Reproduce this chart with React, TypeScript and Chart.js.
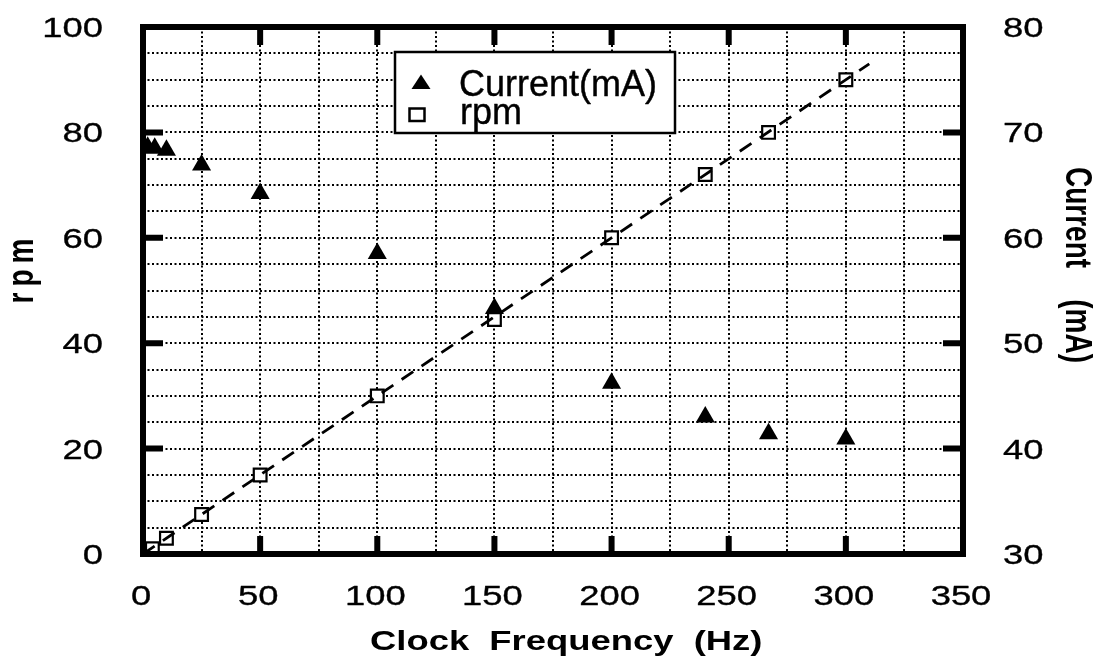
import React, { useEffect, useRef } from 'react';
import { Chart, registerables } from 'chart.js';

Chart.register(...registerables);

// ---- data ----
const rpmFreq = [4, 10, 25, 50, 100, 150, 200, 240, 267, 300];
const rpmValues = [1, 3, 7.5, 15, 30, 44.5, 60, 72, 80, 90];
const currentFreq = [2, 5, 10, 25, 50, 100, 150, 200, 240, 267, 300];
const currentValues = [68.6, 68.5, 68.3, 66.9, 64.2, 58.5, 53.3, 46.2, 43.0, 41.4, 40.9];
const fitFreq = [0, 310];
const fitRpm = [0, 93];

const xMajorTicks = [0, 50, 100, 150, 200, 250, 300, 350];
const rpmMajorTicks = [0, 20, 40, 60, 80, 100];
const currentMajorTicks = [30, 40, 50, 60, 70, 80];

const xTitle = 'Clock  Frequency  (Hz)';
const yLeftTitle = 'rpm';
const yRightTitle = 'Current    (mA)';
const legendLabels = ['Current(mA)', 'rpm'];

const FONT = '"Liberation Sans", Arial, Helvetica, sans-serif';
const STRETCH = 1.3;

const decorPlugin = {
  id: 'decor',
  afterDraw(chart: any) {
    const { ctx, chartArea: a, scales } = chart;
    const xs = scales.x;
    const ys = scales.y;
    const yr = scales.yR;
    ctx.save();
    ctx.setLineDash([]);
    ctx.strokeStyle = '#000';
    ctx.fillStyle = '#000';

    // thick frame
    ctx.lineWidth = 6;
    ctx.lineJoin = 'miter';
    ctx.strokeRect(a.left, a.top, a.right - a.left, a.bottom - a.top);

    // inward major ticks
    ctx.lineCap = 'butt';
    ctx.beginPath();
    for (const v of xMajorTicks) {
      if (v === xs.min || v === xs.max) continue;
      const px = xs.getPixelForValue(v);
      ctx.moveTo(px, a.bottom);
      ctx.lineTo(px, a.bottom - 18);
      ctx.moveTo(px, a.top);
      ctx.lineTo(px, a.top + 18);
    }
    for (const v of rpmMajorTicks) {
      if (v === ys.min || v === ys.max) continue;
      const py = ys.getPixelForValue(v);
      ctx.moveTo(a.left, py);
      ctx.lineTo(a.left + 20, py);
    }
    for (const v of currentMajorTicks) {
      if (v === yr.min || v === yr.max) continue;
      const py = yr.getPixelForValue(v);
      ctx.moveTo(a.right, py);
      ctx.lineTo(a.right - 20, py);
    }
    ctx.stroke();

    const stretchedText = (
      text: string, x: number, y: number, font: string, align: CanvasTextAlign,
      sx = STRETCH, heavy = 0,
    ) => {
      ctx.save();
      ctx.translate(x, y);
      ctx.scale(sx, 1);
      ctx.font = font;
      ctx.textAlign = align;
      ctx.textBaseline = 'alphabetic';
      ctx.fillStyle = '#000';
      ctx.fillText(text, 0, 0);
      if (heavy > 0) {
        ctx.lineWidth = heavy;
        ctx.strokeStyle = '#000';
        ctx.lineJoin = 'round';
        ctx.strokeText(text, 0, 0);
      }
      ctx.restore();
    };

    // tick labels (positions from the library scales)
    const tickFont = `28px ${FONT}`;
    for (const v of xMajorTicks) {
      stretchedText(String(v), xs.getPixelForValue(v) - 2, 605, tickFont, 'center', STRETCH, 0.35);
    }
    for (const v of rpmMajorTicks) {
      stretchedText(String(v), 103, ys.getPixelForValue(v) + 10, tickFont, 'right', STRETCH, 0.35);
    }
    for (const v of currentMajorTicks) {
      stretchedText(String(v), 1003, yr.getPixelForValue(v) + 10, tickFont, 'left', STRETCH, 0.35);
    }

    // legend box
    const bx = 395, by = 52, bw = 280, bh = 81;
    ctx.fillStyle = '#fff';
    ctx.fillRect(bx, by, bw, bh);
    ctx.lineWidth = 2.5;
    ctx.strokeRect(bx, by, bw, bh);
    ctx.fillStyle = '#000';
    ctx.beginPath();
    ctx.moveTo(421, 74.5);
    ctx.lineTo(430.5, 89);
    ctx.lineTo(411.5, 89);
    ctx.closePath();
    ctx.fill();
    ctx.fillStyle = '#fff';
    ctx.fillRect(409.5, 108.5, 15, 12.5);
    ctx.lineWidth = 2.5;
    ctx.strokeRect(409.5, 108.5, 15, 12.5);
    ctx.fillStyle = '#000';
    stretchedText(legendLabels[0], 459, 96, `36px ${FONT}`, 'left', 1, 0.4);
    stretchedText(legendLabels[1], 460, 124, `36px ${FONT}`, 'left', 1, 0.4);

    // x title
    stretchedText(xTitle, 370, 650, `bold 28px ${FONT}`, 'left');

    // left title (rotated)
    ctx.save();
    ctx.translate(33, 271);
    ctx.scale(STRETCH, 1);
    ctx.rotate(-Math.PI / 2);
    ctx.font = `bold 28px ${FONT}`;
    ctx.letterSpacing = '6px';
    ctx.textAlign = 'center';
    ctx.textBaseline = 'alphabetic';
    ctx.fillText(yLeftTitle, 3, 0);
    ctx.restore();

    // right title (rotated)
    ctx.save();
    ctx.translate(1066, 167);
    ctx.scale(STRETCH, 1);
    ctx.rotate(Math.PI / 2);
    ctx.font = `bold 28px ${FONT}`;
    ctx.textAlign = 'left';
    ctx.textBaseline = 'alphabetic';
    ctx.fillText(yRightTitle, 0, 0);
    ctx.restore();

    ctx.restore();
  },
};

const zeroPad = (s: any) => {
  s.paddingTop = 0;
  s.paddingBottom = 0;
  s.paddingLeft = 0;
  s.paddingRight = 0;
};

export default function App() {
  const ref = useRef<HTMLCanvasElement | null>(null);

  useEffect(() => {
    if (!ref.current) return;
    const chart = new Chart(ref.current, {
      type: 'scatter',
      data: {
        datasets: [
          {
            label: 'fit',
            data: fitFreq.map((f, i) => ({ x: f, y: fitRpm[i] })),
            showLine: true,
            borderColor: '#000',
            borderWidth: 2.8,
            borderDash: [14, 10],
            pointRadius: 0,
            yAxisID: 'y',
          },
          {
            label: legendLabels[1],
            data: rpmFreq.map((f, i) => ({ x: f, y: rpmValues[i] })),
            pointStyle: 'rect',
            pointRadius: 9,
            backgroundColor: '#fff',
            borderColor: '#000',
            borderWidth: 2.2,
            yAxisID: 'y',
          },
          {
            label: legendLabels[0],
            data: currentFreq.map((f, i) => ({ x: f, y: currentValues[i] })),
            pointStyle: 'triangle',
            pointRadius: 11,
            backgroundColor: '#000',
            borderColor: '#000',
            borderWidth: 0,
            yAxisID: 'yR',
          },
        ],
      },
      options: {
        responsive: false,
        animation: false,
        devicePixelRatio: 1,
        layout: { padding: { top: 27, left: 0, right: 0, bottom: 0 } },
        plugins: { legend: { display: false }, tooltip: { enabled: false } },
        scales: {
          x: {
            type: 'linear',
            position: 'bottom',
            min: 0,
            max: 350,
            afterFit: (s: any) => { s.height = 102; zeroPad(s); },
            ticks: { stepSize: 25, autoSkip: false, display: false },
            grid: { color: '#000', lineWidth: 2, drawTicks: false },
            border: { display: false, dash: [2, 2.5] },
          },
          y: {
            type: 'linear',
            position: 'left',
            min: 0,
            max: 100,
            afterFit: (s: any) => { s.width = 143; zeroPad(s); },
            ticks: { stepSize: 5, autoSkip: false, display: false },
            grid: { color: '#000', lineWidth: 2, drawTicks: false },
            border: { display: false, dash: [2, 2.5] },
          },
          yR: {
            type: 'linear',
            position: 'right',
            min: 30,
            max: 80,
            afterFit: (s: any) => { s.width = 134; zeroPad(s); },
            ticks: { stepSize: 10, autoSkip: false, display: false },
            grid: { drawOnChartArea: false, drawTicks: false },
            border: { display: false },
          },
        },
      },
      plugins: [decorPlugin],
    } as any);
    return () => chart.destroy();
  }, []);

  return (
    <div style={{ position: 'absolute', left: 0, top: 0, width: 1097, height: 656, background: '#fff' }}>
      <canvas ref={ref} width={1097} height={656} />
    </div>
  );
}
